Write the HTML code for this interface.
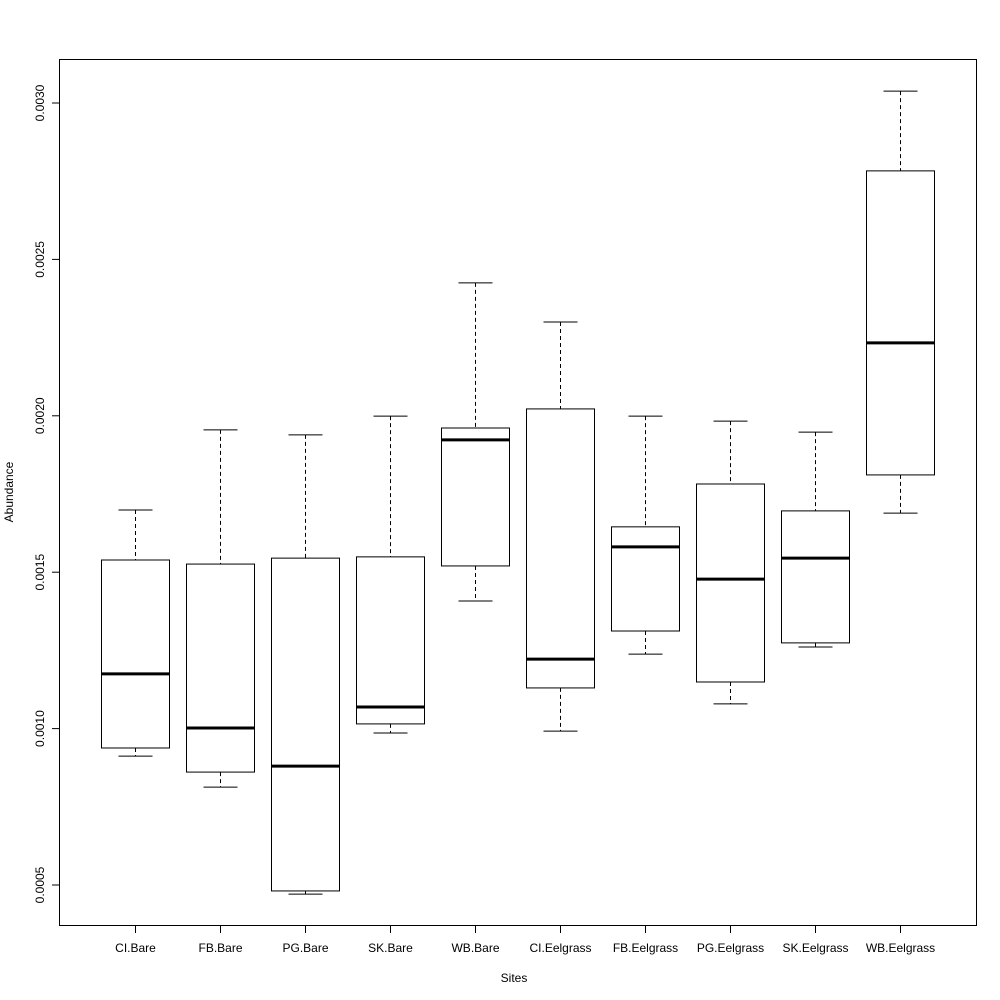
<!DOCTYPE html>
<html><head><meta charset="utf-8"><style>
html,body{margin:0;padding:0;background:#fff;}
svg{display:block;font-family:"Liberation Sans",sans-serif;}
</style></head><body>
<svg id="chart" width="1000" height="1000" viewBox="0 0 1000 1000" xmlns="http://www.w3.org/2000/svg">
<rect x="0" y="0" width="1000" height="1000" fill="#fff"/>
<rect x="59.5" y="59.5" width="917" height="866" fill="none" stroke="#000" stroke-width="1"/>
<text x="514" y="982" font-size="12" text-anchor="middle">Sites</text>
<text x="0" y="0" font-size="12" text-anchor="middle" transform="translate(13,492) rotate(-90)">Abundance</text>
<g id="marks"></g>
</svg>
<script>
const categories = ["CI.Bare","FB.Bare","PG.Bare","SK.Bare","WB.Bare","CI.Eelgrass","FB.Eelgrass","PG.Eelgrass","SK.Eelgrass","WB.Eelgrass"];
const whiskerLow = [0.000912,0.000813,0.000471,0.000986,0.001408,0.000992,0.001238,0.001079,0.001261,0.001689];
const q1 = [0.000938,0.000861,0.000481,0.001015,0.001520,0.001130,0.001312,0.001149,0.001274,0.001811];
const medians = [0.001175,0.001002,0.000880,0.001069,0.001923,0.001222,0.001581,0.001478,0.001545,0.002233];
const q3 = [0.001539,0.001526,0.001545,0.001549,0.001961,0.002022,0.001645,0.001782,0.001696,0.002783];
const whiskerHigh = [0.001699,0.001955,0.001939,0.001999,0.002425,0.002300,0.001999,0.001983,0.001948,0.003038];
const yTicks = [0.0005,0.0010,0.0015,0.0020,0.0025,0.0030];
const yTickLabels = ["0.0005","0.0010","0.0015","0.0020","0.0025","0.0030"];

const NS="http://www.w3.org/2000/svg";
const g=document.getElementById('marks');
function y(v){return 103+(0.0030-v)/0.0005*156.4;}
function x(i){return 59+(i+0.9)*(918/10.8);}
const halfW=0.4*(918/10.8), capW=0.2*(918/10.8);
function mk(tag,attrs){const e=document.createElementNS(NS,tag);for(const k in attrs)e.setAttribute(k,attrs[k]);g.appendChild(e);return e;}

yTicks.forEach((t,i)=>{
  const l=mk('line',{x1:52,x2:59,y1:y(t),y2:y(t),stroke:'#000'});
  
  
  const tx=mk('text',{x:0,y:0,'font-size':12,'text-anchor':'middle',transform:`translate(44,${y(t)}) rotate(-90)`});
  tx.textContent=yTickLabels[i];
  
  
});
categories.forEach((c,i)=>{
  const cx=x(i);
  const tk=mk('line',{x1:cx,x2:cx,y1:926,y2:933,stroke:'#000'});
  
  
  const tl=mk('text',{x:cx,y:952,'font-size':12,'text-anchor':'middle'});
  tl.textContent=c;
  
  
  const w1=mk('line',{x1:cx,x2:cx,y1:y(whiskerHigh[i]),y2:y(q3[i]),stroke:'#000','stroke-dasharray':'4,3'});
  
  
  const w2=mk('line',{x1:cx,x2:cx,y1:y(q1[i]),y2:y(whiskerLow[i]),stroke:'#000','stroke-dasharray':'4,3'});
  
  
  const c1=mk('line',{x1:cx-capW,x2:cx+capW,y1:y(whiskerHigh[i]),y2:y(whiskerHigh[i]),stroke:'#000'});
  
  
  const c2=mk('line',{x1:cx-capW,x2:cx+capW,y1:y(whiskerLow[i]),y2:y(whiskerLow[i]),stroke:'#000'});
  
  
  const b=mk('rect',{x:cx-halfW,y:y(q3[i]),width:2*halfW,height:y(q1[i])-y(q3[i]),fill:'none',stroke:'#000'});
  
  
  const m=mk('line',{x1:cx-halfW,x2:cx+halfW,y1:y(medians[i]),y2:y(medians[i]),stroke:'#000','stroke-width':3});
  
  
});
</script>
</body></html>
